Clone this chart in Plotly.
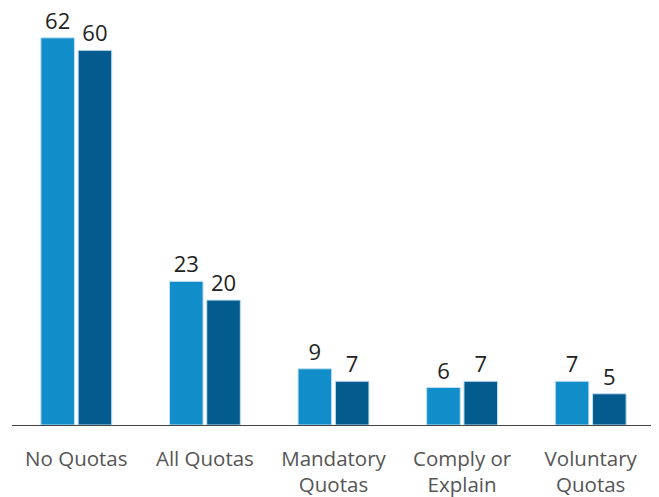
import plotly.graph_objects as go

# Data
categories = ["No Quotas", "All Quotas", "Mandatory<br>Quotas", "Comply or<br>Explain", "Voluntary<br>Quotas"]
series_a = [62, 23, 9, 6, 7]
series_b = [60, 20, 7, 7, 5]

fig = go.Figure()

fig.add_trace(go.Bar(
    x=categories, y=series_a,
    marker=dict(color="#118DC9", line=dict(color="#BFE0F2", width=1)),
    text=series_a, textposition="outside",
    textfont=dict(size=22, color="#222222"),
    cliponaxis=False,
))

fig.add_trace(go.Bar(
    x=categories, y=series_b,
    marker=dict(color="#035B8E", line=dict(color="#BFE0F2", width=1)),
    text=series_b, textposition="outside",
    textfont=dict(size=22, color="#222222"),
    cliponaxis=False,
))

# page body adds an 8px margin, so the figure is sized a little smaller
fig.update_layout(
    width=651, height=489,
    margin=dict(l=4, r=4, t=8, b=72),
    barmode="group",
    bargap=0.42,
    bargroupgap=0.1,
    showlegend=False,
    plot_bgcolor="white",
    paper_bgcolor="white",
    font=dict(family="Open Sans", color="#555555"),
    xaxis=dict(
        showline=True, linecolor="#444444", linewidth=1,
        showgrid=False, ticks="", tickfont=dict(size=20.5, color="#555555"),
        ticklabelstandoff=15, automargin=False,
    ),
    yaxis=dict(
        range=[0, 65.5], visible=False, showgrid=False, zeroline=False,
    ),
)

fig.write_html("out.html")
